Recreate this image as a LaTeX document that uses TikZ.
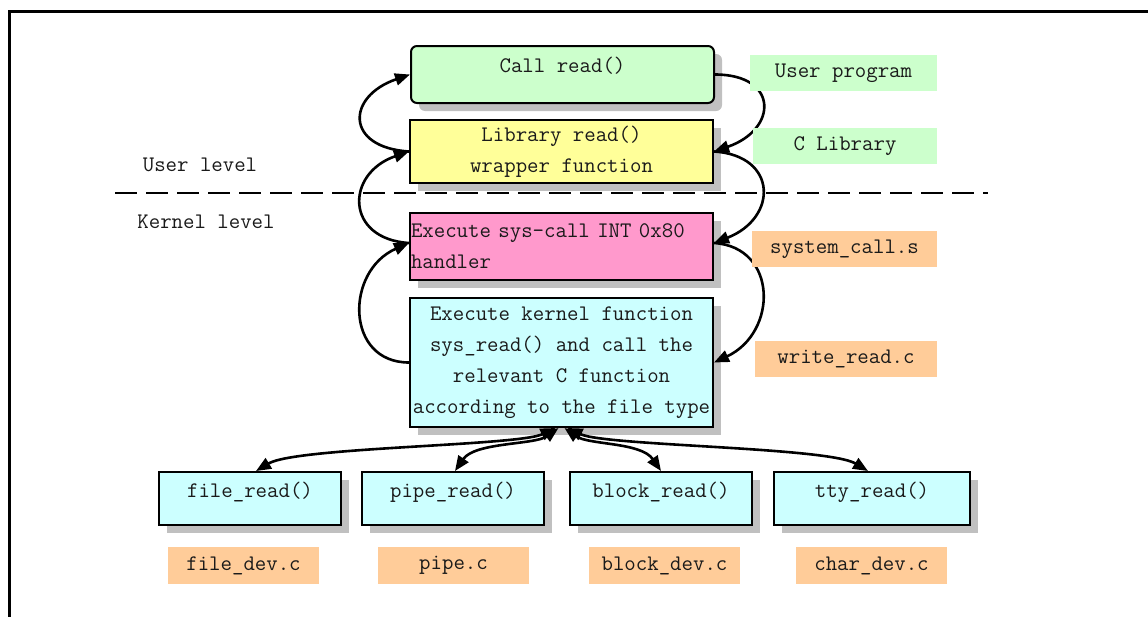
\documentclass[tikz,border=0pt]{standalone}
\usepackage{fontspec}
\usetikzlibrary{arrows.meta}
\definecolor{cgreen}{HTML}{CCFFCC}
\definecolor{cyellow}{HTML}{FFFF99}
\definecolor{cpink}{HTML}{FF99CC}
\definecolor{ccyan}{HTML}{CCFFFF}
\definecolor{corange}{HTML}{FFCC99}
\definecolor{shadowgray}{HTML}{C0C0C0}
\definecolor{ink}{HTML}{1A1A1A}
\begin{document}
\begin{tikzpicture}[x=1pt,y=-1pt,
  font=\ttfamily\fontsize{22.2}{31}\selectfont, text=ink,
  box/.style={draw=black, line width=2pt, inner sep=0pt,
    preaction={fill=shadowgray, transform canvas={xshift=8pt,yshift=-8pt}}},
  lbl/.style={inner sep=0pt, minimum height=36pt},
  flow/.style={line width=2.6pt, -{Triangle[length=15pt,width=12pt]}},
  both/.style={line width=2.6pt, {Triangle[length=15pt,width=12pt]}-{Triangle[length=15pt,width=12pt]}}]
\useasboundingbox (0,0) rectangle (1148,616);
\fill[white] (0,0) rectangle (1148,616);
% outer frame
\draw[line width=3pt] (9.5,11.5) rectangle (1175,640);
% level labels and separator
\node (ulev) at (200,165) {User level};
\node (klev) at (206,222) {Kernel level};
\draw[line width=2.6pt, dash pattern=on 22pt off 9pt] (115,193) -- (988,193);
% main boxes
\node[box, fill=cgreen, rounded corners=6pt, minimum width=303pt, text height=26pt, text depth=31pt] (call) at (562.5,74.5) {Call read()};
\node[box, fill=cyellow, minimum width=303pt, minimum height=63pt, align=center] (lib) at (561.5,151.5) {Library read()\\wrapper function};
\node[box, fill=cpink, text width=301pt, minimum height=67pt, align=left, inner xsep=1pt] (sys) at (561.5,246.5) {Execute sys-call INT 0x80\\handler};
\node[box, fill=ccyan, minimum width=303pt, minimum height=129pt, align=center] (kern) at (561.5,362.5) {Execute kernel function\\sys\_read() and call the\\relevant C function\\according to the file type};
% bottom boxes
\node[box, fill=ccyan, minimum width=182pt, text height=25pt, text depth=28pt] (fr) at (250,498.5) {file\_read()};
\node[box, fill=ccyan, minimum width=182pt, text height=25pt, text depth=28pt] (pr) at (453,498.5) {pipe\_read()};
\node[box, fill=ccyan, minimum width=182pt, text height=25pt, text depth=28pt] (br) at (661,498.5) {block\_read()};
\node[box, fill=ccyan, minimum width=196pt, text height=25pt, text depth=28pt] (tr) at (872,498.5) {tty\_read()};
% right-side arcs (going down)
\draw[flow] (call.east) .. controls +(64,0) and +(64,-22) .. (lib.east);
\draw[flow] (lib.east) .. controls +(64,4) and +(64,-25) .. ([yshift=3.5pt]sys.east);
\draw[flow] ([yshift=3.5pt]sys.east) .. controls +(64,4) and +(64,-30) .. (kern.east);
% left-side arcs (going up)
\draw[flow] (kern.west) .. controls +(-64,0) and +(-64,28) .. ([yshift=3.5pt]sys.west);
\draw[flow] ([yshift=3.5pt]sys.west) .. controls +(-64,-4) and +(-64,22) .. (lib.west);
\draw[flow] (lib.west) .. controls +(-64,-4) and +(-64,22) .. (call.west);
% bottom arrows
\draw[both] ([xshift=-6pt]kern.south) .. controls +(-38,18) and +(40,-24) .. ([xshift=6pt]fr.north);
\draw[both] ([xshift=-3pt]kern.south) .. controls +(-24,17) and +(20,-29) .. ([xshift=2pt]pr.north);
\draw[both] ([xshift=3pt]kern.south) .. controls +(24,17) and +(-20,-29) .. (br.north);
\draw[both] ([xshift=6pt]kern.south) .. controls +(38,18) and +(-40,-24) .. ([xshift=-4pt]tr.north);
% side labels
\node[lbl, fill=cgreen, minimum width=187pt] (up) at (843.5,73) {User program};
\node[lbl, fill=cgreen, minimum width=184pt] (cl) at (845,146) {C Library};
\node[lbl, fill=corange, minimum width=185pt] (sc) at (844.5,249) {system\_call.s};
\node[lbl, fill=corange, minimum width=182pt] (wr) at (846,359) {write\_read.c};
% bottom labels
\node[lbl, fill=corange, minimum width=151pt, minimum height=37pt] (fd) at (243.5,565.5) {file\_dev.c};
\node[lbl, fill=corange, minimum width=151pt, minimum height=37pt] (pc) at (453.5,565.5) {pipe.c};
\node[lbl, fill=corange, minimum width=151pt, minimum height=37pt] (bd) at (664.5,565.5) {block\_dev.c};
\node[lbl, fill=corange, minimum width=151pt, minimum height=37pt] (cd) at (871.5,565.5) {char\_dev.c};
\end{tikzpicture}
\end{document}
